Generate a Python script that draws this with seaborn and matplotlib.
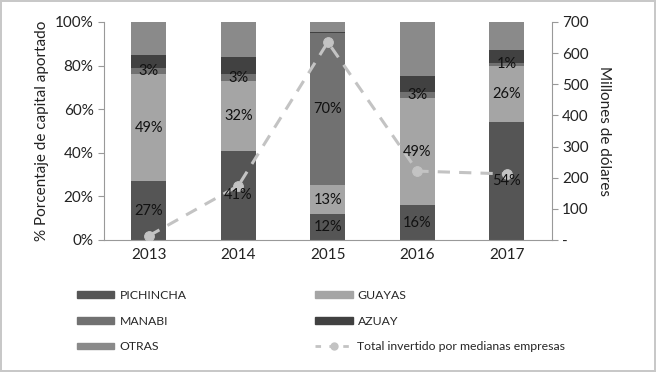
import numpy as np
import pandas as pd
import seaborn as sns
import matplotlib.pyplot as plt
from matplotlib.patches import Patch
from matplotlib.lines import Line2D

years = ["2013", "2014", "2015", "2016", "2017"]
pichincha = [27, 41, 12, 16, 54]
guayas = [49, 32, 13, 49, 26]
manabi = [3, 3, 70, 3, 1]
azuay = [6, 8, 0.5, 7, 6]
otras = [15, 16, 4.5, 25, 13]
total_invertido = [13, 174, 635, 221, 212]

series = [("PICHINCHA", pichincha, "#555555"),
          ("GUAYAS", guayas, "#a5a5a5"),
          ("MANABI", manabi, "#717171"),
          ("AZUAY", azuay, "#414141"),
          ("OTRAS", otras, "#8a8a8a")]
line_color = "#c3c3c3"

sns.set_style("white")
plt.rcParams["font.family"] = ["Lato", "DejaVu Sans"]

fig = plt.figure(figsize=(6.56, 3.72), dpi=100, edgecolor="#c8c8c8", linewidth=1.5)
ax = fig.add_axes([0.1585, 0.355, 0.6825, 0.586])

cum = np.zeros(len(years))
tops = []
for name, vals, col in series:
    cum = cum + np.array(vals, dtype=float)
    tops.append(cum.copy())

# draw from the tallest stack down so lower segments sit on top
for (name, vals, col), top in reversed(list(zip(series, tops))):
    sns.barplot(x=years, y=top, color=col, width=0.39, ax=ax, saturation=1, edgecolor="none")

ax.set_ylim(0, 100)
ax.set_xlim(-0.5, 4.5)
ax.set_yticks(range(0, 101, 20))
ax.set_yticklabels([f"{t}%" for t in range(0, 101, 20)])
ax.set_ylabel("% Porcentaje de capital aportado", fontsize=11, color="#222222")
ax.set_xlabel("")
ax.set_xticks(np.arange(-0.5, 4.6, 1), minor=True)
ax.tick_params(axis="x", which="major", length=0, labelsize=11, colors="#222222", pad=6)
ax.tick_params(axis="x", which="minor", length=4, color="#999999", direction="out")
ax.tick_params(axis="y", length=4, color="#999999", labelsize=11, colors="#222222", direction="out")
for s in ["left", "bottom"]:
    ax.spines[s].set_color("#999999")
ax.spines["top"].set_visible(False)
ax.spines["right"].set_visible(False)

ax2 = ax.twinx()
sns.lineplot(x=np.arange(len(years)), y=total_invertido, ax=ax2, color=line_color, lw=2.2,
             linestyle=(0, (4, 3)), marker="o", markersize=7, markeredgecolor=line_color)
ax2.set_ylim(0, 700)
ax2.set_yticks(range(0, 701, 100))
ax2.set_yticklabels(["-"] + [str(t) for t in range(100, 701, 100)])
ax2.set_ylabel("Millones de dólares", fontsize=11, color="#222222", rotation=270, labelpad=16)
ax2.tick_params(axis="y", length=4, color="#999999", labelsize=11, colors="#222222", direction="out")
for s in ["left", "bottom", "top"]:
    ax2.spines[s].set_visible(False)
ax2.spines["right"].set_color("#999999")

# value labels for the first three series, drawn above the line
for (name, vals, col), top in list(zip(series, tops))[:3]:
    for i, v in enumerate(vals):
        ax2.text(i, top[i] - v / 2, f"{v:.0f}%", transform=ax.transData, ha="center", va="center",
                 fontsize=10.5, color="#111111", zorder=10)

handles = [Patch(color=col, label=name) for name, vals, col in series]
line_handle = Line2D([], [], color=line_color, lw=2, linestyle=(0, (2, 3)), marker="o",
                     markersize=5, label="Total invertido por medianas empresas")
order = [handles[0], handles[2], handles[4], handles[1], handles[3], line_handle]
fig.legend(handles=order, ncol=2, loc="upper left", bbox_to_anchor=(0.1, 0.25),
           frameon=False, fontsize=8.8, handlelength=3.1, handleheight=0.5,
           columnspacing=10.5, labelspacing=1.2, handletextpad=0.4)

fig.savefig("out.png", dpi=100)
